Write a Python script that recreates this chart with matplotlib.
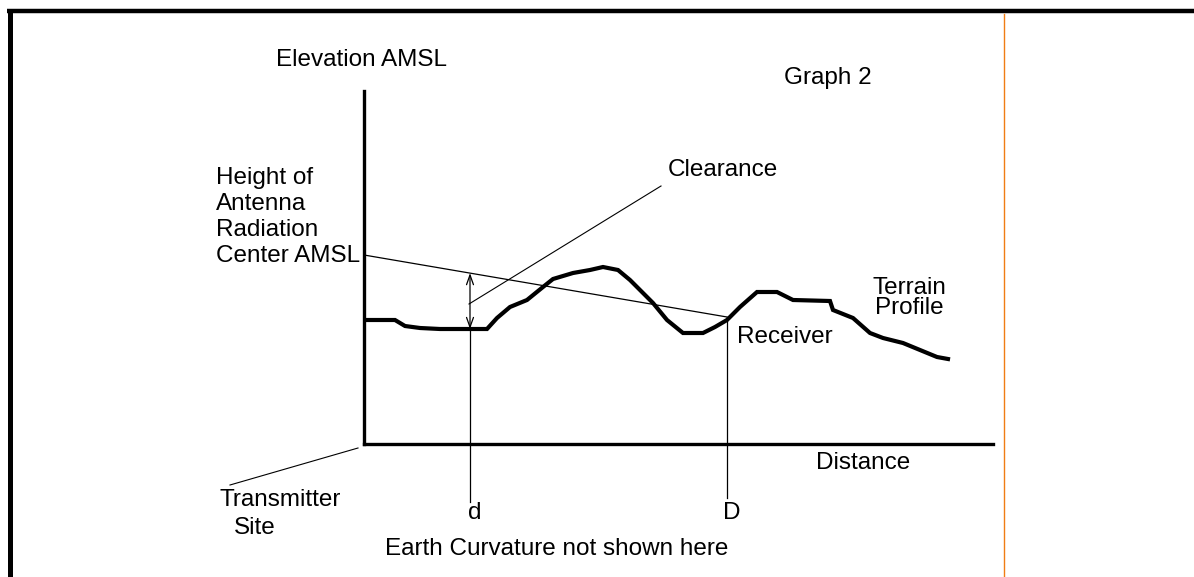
import matplotlib
matplotlib.use("Agg")
from matplotlib import pyplot as plt
import numpy as np

plt.rcParams['font.family'] = ['Liberation Sans Narrow', 'Liberation Sans', 'DejaVu Sans']

# terrain profile (distance, elevation) in drawing units
terrain_dist = [4, 31, 36, 41, 56, 76, 106, 123, 133, 146, 163, 179, 189, 209, 226,
                239, 254, 266, 276, 289, 303, 319, 339, 351, 363, 376, 393, 413, 429,
                466, 469, 489, 506, 519, 539, 556, 573, 584]
terrain_elev = [124, 124, 121, 118, 116, 115, 115, 115, 126, 137, 144, 157, 165, 171, 174,
                177, 174, 164, 154, 141, 124, 111, 111, 117, 124, 137, 152, 152, 144,
                143, 134, 126, 111, 106, 101, 94, 87, 85]

antenna_height = 189   # radiation center at the transmitter
receiver_dist = 363    # D
receiver_height = 127
point_dist = 106       # d

W, H = 1194, 577
fig = plt.figure(figsize=(W / 100, H / 100), dpi=100)

# background layer in pixel coordinates (frame, labels)
bg = fig.add_axes([0, 0, 1, 1])
bg.set_xlim(0, W)
bg.set_ylim(H, 0)
bg.axis('off')
bg.plot([7, W], [11, 11], color='black', lw=3.2, solid_capstyle='butt')
bg.plot([9.5, 9.5], [9, H], color='black', lw=3.6, solid_capstyle='butt')
bg.plot([1003.5, 1003.5], [14, H], color='#f07d14', lw=1.0)

# main diagram axes
x0, y0, x1, y1 = 364, 444, 993, 91
ax = fig.add_axes([x0 / W, (H - y0) / H, (x1 - x0) / W, (y0 - y1) / H])
ax.set_xlim(0, x1 - x0)
ax.set_ylim(0, y0 - y1)
ax.patch.set_alpha(0)
for s in ['top', 'right']:
    ax.spines[s].set_visible(False)
for s in ['left', 'bottom']:
    ax.spines[s].set_linewidth(2.4)
ax.set_xticks([])
ax.set_yticks([])

ax.plot(terrain_dist, terrain_elev, color='black', lw=3.0, solid_joinstyle='miter')

# line of sight from antenna to receiver
ax.plot([0, receiver_dist], [antenna_height, receiver_height], color='black', lw=0.9)

los_at_d = np.interp(point_dist, [0, receiver_dist], [antenna_height, receiver_height])
ground_at_d = np.interp(point_dist, terrain_dist, terrain_elev)

ax.annotate('', xy=(point_dist, ground_at_d), xytext=(point_dist, los_at_d),
            arrowprops=dict(arrowstyle='<->,head_length=0.7,head_width=0.25',
                            lw=0.9, color='black', shrinkA=0, shrinkB=0))
ax.plot([point_dist, point_dist], [ground_at_d, -58], color='black', lw=0.9, clip_on=False)
ax.plot([receiver_dist, receiver_dist], [receiver_height, -54], color='black', lw=0.9,
        clip_on=False)

# leader lines
ax.plot([point_dist - 1, 297], [140, 258], color='black', lw=0.8, clip_on=False)
ax.plot([-6, -134], [-4, -41], color='black', lw=0.8, clip_on=False)

fs = 17.5
bg.text(276, 60, 'Elevation AMSL', fontsize=fs, va='center', ha='left')
bg.text(784, 78, 'Graph 2', fontsize=fs, va='center', ha='left')
bg.text(216, 217, 'Height of\nAntenna\nRadiation\nCenter AMSL', fontsize=fs,
        va='center', ha='left', linespacing=1.22)
bg.text(668, 170, 'Clearance', fontsize=fs, va='center', ha='left')
bg.text(909, 298, 'Terrain\nProfile', fontsize=fs, va='center', ha='center',
        multialignment='center', linespacing=0.85)
bg.text(737, 337, 'Receiver', fontsize=fs, va='center', ha='left')
bg.text(816, 463, 'Distance', fontsize=fs, va='center', ha='left')
bg.text(220, 500, 'Transmitter', fontsize=fs, va='center', ha='left')
bg.text(234, 528, 'Site', fontsize=fs, va='center', ha='left')
bg.text(475, 513, 'd', fontsize=fs, va='center', ha='center')
bg.text(732, 513, 'D', fontsize=fs, va='center', ha='center')
bg.text(385, 549, 'Earth Curvature not shown here', fontsize=fs, va='center', ha='left')

fig.savefig('out.png', dpi=100)
